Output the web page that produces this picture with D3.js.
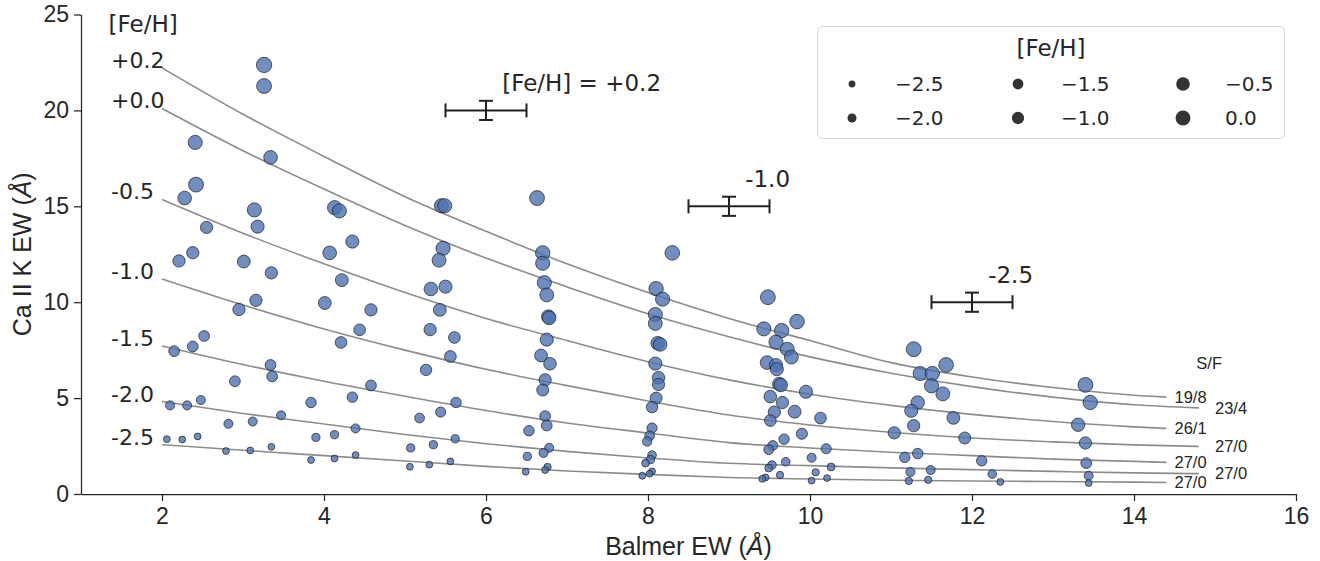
<!DOCTYPE html>
<html><head><meta charset="utf-8">
<script src="https://cdn.jsdelivr.net/npm/d3@7"></script>
<style>
body{margin:0;background:#fff}
text{font-family:"Liberation Sans",Arial,Helvetica,sans-serif;fill:#262626}
text.dv{font-family:"DejaVu Sans",sans-serif}
</style>
</head><body>
<svg id="c" width="1320" height="561"></svg>
<script>
// ---------- data ----------
const xTicks = [2, 4, 6, 8, 10, 12, 14, 16];
const yTicks = [0, 5, 10, 15, 20, 25];

// model curves
const curveFeh = ["+0.2", "+0.0", "-0.5", "-1.0", "-1.5", "-2.0", "-2.5"];
const curveSF  = ["19/8", "23/4", "26/1", "27/0", "27/0", "27/0", "27/0"];
const sfX      = [14.5, 15.0, 14.5, 15.0, 14.5, 15.0, 14.5];
const curveXShort = [2,3,4,5,6,7,8,9,10,11,12,13,14,14.4];
const curveXLong  = [2,3,4,5,6,7,8,9,10,11,12,13,14,14.8];
const curveP02 = [22.22,19.8,17.6,15.5,13.7,12.0,10.5,9.15,8.0,6.85,6.1,5.55,5.15,5.05];
const curveP00 = [20.1,17.9,15.9,14.0,12.3,10.8,9.4,8.2,7.15,6.3,5.6,5.05,4.65,4.49];
const curveM05 = [15.36,13.6,12.0,10.5,9.15,8.0,6.9,5.95,5.2,4.62,4.15,3.78,3.5,3.42];
const curveM10 = [11.21,9.85,8.6,7.5,6.5,5.65,4.85,4.12,3.6,3.22,2.92,2.72,2.56,2.48];
const curveM15 = [7.72,6.75,5.88,5.1,4.35,3.7,3.18,2.68,2.4,2.18,2.0,1.82,1.7,1.65];
const curveM20 = [4.82,4.2,3.65,3.1,2.62,2.22,1.88,1.6,1.48,1.36,1.27,1.18,1.1,1.06];
const curveM25 = [2.57,2.28,2.0,1.72,1.44,1.2,1.02,0.86,0.78,0.72,0.68,0.65,0.62,0.60];
const curveY = [curveP02, curveP00, curveM05, curveM10, curveM15, curveM20, curveM25];
const curveX = [curveXShort, curveXLong, curveXShort, curveXLong, curveXShort, curveXLong, curveXShort];

// stars
const balmerEW = [
2.41,2.42,2.28,2.55,2.21,2.38,2.52,2.38,2.15,2.10,2.31,2.48,2.06,2.25,2.44,
3.26,3.26,3.34,3.14,3.18,3.01,3.35,3.16,2.95,3.34,3.36,2.90,3.47,2.82,3.12,2.79,3.09,3.35,
4.13,4.19,4.35,4.07,4.22,4.01,4.58,4.44,4.21,4.58,4.35,3.84,4.39,3.90,4.13,3.84,4.13,4.39,
5.45,5.49,5.47,5.42,5.32,5.50,5.43,5.31,5.61,5.56,5.26,5.63,5.44,5.18,5.62,5.35,5.07,5.06,5.30,5.56,
6.63,6.70,6.70,6.72,6.75,6.77,6.78,6.75,6.68,6.79,6.73,6.70,6.73,6.75,6.53,6.78,6.71,6.51,6.76,6.73,6.49,
8.30,8.10,8.18,8.09,8.09,8.12,8.15,8.09,8.13,8.13,8.10,8.05,8.05,8.02,7.99,8.05,8.03,7.97,8.05,8.02,7.93,
9.48,9.84,9.43,9.65,9.58,9.72,9.77,9.47,9.58,9.59,9.62,9.64,9.95,9.51,9.66,9.81,9.56,9.51,10.13,9.90,9.68,9.54,9.49,10.20,10.02,9.70,9.53,9.49,10.26,10.07,9.63,9.45,9.41,10.21,10.02,
11.28,11.68,11.36,11.51,11.50,11.64,11.33,11.25,11.77,11.28,11.04,11.91,11.33,11.17,12.12,11.49,11.24,12.25,11.46,11.22,12.35,
13.40,13.46,13.31,13.40,13.41,13.44,13.44];
const caKEW = [
18.33,16.13,15.43,13.9,12.15,12.58,8.24,7.69,7.45,4.62,4.62,4.90,2.86,2.84,3.0,
22.37,21.27,17.55,14.81,13.94,12.12,11.53,10.10,9.62,6.73,6.13,5.88,4.10,3.66,3.78,2.24,2.27,2.46,
14.93,14.76,13.16,12.57,11.15,9.96,9.60,8.56,7.90,5.66,5.05,4.77,3.42,2.95,3.09,1.77,1.85,2.03,
15.03,15.03,12.81,12.19,10.69,10.81,9.60,8.57,8.16,7.17,6.47,4.77,4.27,3.96,2.88,2.57,2.40,1.42,1.53,1.70,
15.43,12.57,12.03,11.02,10.38,9.25,9.18,8.05,7.22,6.79,5.95,5.42,4.06,3.57,3.30,2.41,2.14,1.96,1.41,1.25,1.16,
12.57,10.71,10.16,9.36,8.89,7.86,7.80,6.80,6.06,5.71,5.0,4.53,3.44,3.04,2.74,2.03,1.79,1.61,1.18,1.06,0.95,
10.26,8.99,8.61,8.52,7.92,7.55,7.14,6.85,6.72,6.51,5.74,5.68,5.33,5.08,4.77,4.29,4.27,3.83,3.96,3.14,2.86,2.53,2.31,2.36,1.89,1.68,1.51,1.35,1.41,1.13,0.99,0.86,0.79,0.83,0.70,
7.55,6.73,6.28,6.28,5.64,5.22,4.77,4.34,3.97,3.56,3.19,2.92,2.11,1.91,1.73,1.25,1.15,1.04,0.74,0.68,0.63,
5.69,4.77,3.61,2.66,1.61,0.95,0.57];
const starFeh = [
-0.3,0.0,-0.5,-1.0,-1.0,-1.0,-1.5,-1.5,-1.5,-2.0,-2.0,-2.0,-2.5,-2.5,-2.5,
0.2,0.0,-0.5,-0.3,-0.7,-0.8,-1.0,-1.0,-1.0,-1.5,-1.5,-1.5,-2.0,-2.0,-2.0,-2.5,-2.5,-2.5,
-0.3,-0.3,-0.7,-0.5,-0.8,-0.8,-1.0,-1.2,-1.2,-1.5,-1.6,-1.6,-2.0,-2.2,-2.2,-2.5,-2.5,-2.5,
-0.3,-0.3,-0.3,-0.4,-0.5,-0.7,-0.8,-1.0,-1.2,-1.2,-1.3,-1.6,-1.7,-1.8,-2.2,-2.2,-2.2,-2.5,-2.5,-2.5,
0.0,-0.2,-0.3,-0.3,-0.4,-0.5,-0.5,-0.7,-0.8,-0.9,-1.0,-1.1,-1.5,-1.5,-1.6,-2.0,-2.0,-2.2,-2.4,-2.5,-2.5,
-0.1,-0.2,-0.3,-0.3,-0.4,-0.5,-0.5,-0.7,-0.9,-1.0,-1.1,-1.3,-1.7,-1.8,-1.9,-2.1,-2.2,-2.3,-2.5,-2.5,-2.5,
0.0,-0.1,-0.3,-0.2,-0.3,-0.4,-0.4,-0.5,-0.7,-0.7,-0.6,-0.6,-0.7,-0.9,-1.0,-0.8,-1.0,-1.2,-1.2,-1.4,-1.6,-1.8,-1.8,-1.7,-2.0,-2.1,-2.1,-2.3,-2.3,-2.4,-2.4,-2.5,-2.5,-2.5,-2.5,
0.0,-0.1,-0.3,-0.2,-0.3,-0.4,-0.6,-0.7,-0.8,-1.0,-1.0,-1.1,-1.6,-1.6,-1.6,-2.0,-2.0,-2.1,-2.4,-2.4,-2.5,
0.0,-0.2,-0.6,-1.0,-1.5,-2.0,-2.5];

// error bars
const errX = [6, 9, 12];
const errY = [20, 15, 10];
const errXHalf = [0.5, 0.5, 0.5];
const errYHalf = [0.5, 0.5, 0.5];
const errLabels = ["[Fe/H] = +0.2", "-1.0", "-2.5"];

// legend
const legendFeh = [-2.5, -2.0, -1.5, -1.0, -0.5, 0.0];
const legendLabels = ["\u22122.5", "\u22122.0", "\u22121.5", "\u22121.0", "\u22120.5", "0.0"];

// ---------- drawing ----------
const svg = d3.select("#c");
const x = d3.scaleLinear().domain([1, 16]).range([81, 1296]);
const y = d3.scaleLinear().domain([0, 25]).range([494, 14.5]);
const area = d3.scaleLinear().domain([-2.5, 0.2]).range([47, 235]);
const rad = v => Math.sqrt(area(v)) / 2;
const ink = "#262626";

// axes
const gx = svg.append("g").attr("transform", `translate(0,${y(0)})`)
  .call(d3.axisBottom(x).tickValues(xTicks).tickSize(7).tickSizeOuter(0).tickPadding(7));
const gy = svg.append("g").attr("transform", `translate(${x(1)},0)`)
  .call(d3.axisLeft(y).tickValues(yTicks).tickSize(7).tickSizeOuter(0).tickPadding(5));
[gx, gy].forEach(g => {
  g.selectAll("path,line").attr("stroke", ink).attr("stroke-width", 1.25);
  g.selectAll("text").attr("font-size", 23).attr("fill", ink)
    .style("font-family", '"Liberation Sans",Arial,sans-serif');
});

// axis labels
const xl = svg.append("text").attr("x", (x(1) + x(16)) / 2).attr("y", 555)
  .attr("text-anchor", "middle").attr("font-size", 25);
xl.append("tspan").text("Balmer EW (");
xl.append("tspan").attr("font-style", "italic").text("\u00C5");
xl.append("tspan").text(")");
const yl = svg.append("text").attr("transform", `translate(31,${(y(0) + y(25)) / 2}) rotate(-90)`)
  .attr("text-anchor", "middle").attr("font-size", 25);
yl.append("tspan").text("Ca II K EW (");
yl.append("tspan").attr("font-style", "italic").text("\u00C5");
yl.append("tspan").text(")");

// curves
const line = d3.line().x(d => x(d[0])).y(d => y(d[1])).curve(d3.curveMonotoneX);
curveY.forEach((ys, i) => {
  const pts = ys.map((v, j) => [curveX[i][j], v]);
  svg.append("path").attr("d", line(pts)).attr("fill", "none")
    .attr("stroke", "#8c8c8c").attr("stroke-width", 1.6);
  svg.append("text").attr("class", "dv").attr("x", x(1.37)).attr("y", y(ys[0]))
    .attr("font-size", 22).text(curveFeh[i]);
  svg.append("text").attr("x", x(sfX[i])).attr("y", y(ys[ys.length - 1]))
    .attr("dy", "0.35em").attr("font-size", 16.5).text(curveSF[i]);
});
svg.append("text").attr("x", x(14.77)).attr("y", y(6.8)).attr("dy", "0.35em")
  .attr("font-size", 16.5).text("S/F");
svg.append("text").attr("class", "dv").attr("x", x(1.34)).attr("y", y(24.1))
  .attr("font-size", 23).text("[Fe/H]");

// stars
svg.append("g").selectAll("circle").data(balmerEW.map((v, i) => i)).join("circle")
  .attr("cx", i => x(balmerEW[i])).attr("cy", i => y(caKEW[i]))
  .attr("r", i => rad(starFeh[i]))
  .attr("fill", "#4c72b0").attr("fill-opacity", 0.8)
  .attr("stroke", "#1a1a1a").attr("stroke-opacity", 0.75).attr("stroke-width", 0.9);

// error bars
errX.forEach((cx, i) => {
  const g = svg.append("g").attr("stroke", "#222").attr("stroke-width", 2).attr("fill", "none");
  const x0 = x(cx - errXHalf[i]), x1 = x(cx + errXHalf[i]);
  const y0 = y(errY[i] - errYHalf[i]), y1 = y(errY[i] + errYHalf[i]);
  const px = x(cx), py = y(errY[i]);
  g.append("line").attr("x1", x0).attr("x2", x1).attr("y1", py).attr("y2", py);
  g.append("line").attr("x1", x0).attr("x2", x0).attr("y1", py - 7).attr("y2", py + 7);
  g.append("line").attr("x1", x1).attr("x2", x1).attr("y1", py - 7).attr("y2", py + 7);
  g.append("line").attr("x1", px).attr("x2", px).attr("y1", y0).attr("y2", y1);
  g.append("line").attr("x1", px - 7).attr("x2", px + 7).attr("y1", y0).attr("y2", y0);
  g.append("line").attr("x1", px - 7).attr("x2", px + 7).attr("y1", y1).attr("y2", y1);
  svg.append("text").attr("class", "dv").attr("x", x(cx + 0.2)).attr("y", y(errY[i] + 1))
    .attr("font-size", 23).text(errLabels[i]);
});

// legend
const lg = svg.append("g");
lg.append("rect").attr("x", 817.5).attr("y", 26.5).attr("width", 467).attr("height", 112)
  .attr("rx", 5).attr("fill", "#fff").attr("fill-opacity", 0.8)
  .attr("stroke", "#d6d6d6").attr("stroke-width", 1);
lg.append("text").attr("class", "dv").attr("x", 1051).attr("y", 48).attr("dy", "0.35em")
  .attr("text-anchor", "middle").attr("font-size", 23).text("[Fe/H]");
const colMarker = [852, 1018, 1183], colText = [895, 1061, 1225], rowY = [84, 118];
legendFeh.forEach((v, i) => {
  const c = Math.floor(i / 2), r = i % 2;
  lg.append("circle").attr("cx", colMarker[c]).attr("cy", rowY[r]).attr("r", rad(v)).attr("fill", "#333");
  lg.append("text").attr("class", "dv").attr("x", colText[c]).attr("y", rowY[r]).attr("dy", "0.35em")
    .attr("font-size", 20).text(legendLabels[i]);
});
</script>
</body></html>
